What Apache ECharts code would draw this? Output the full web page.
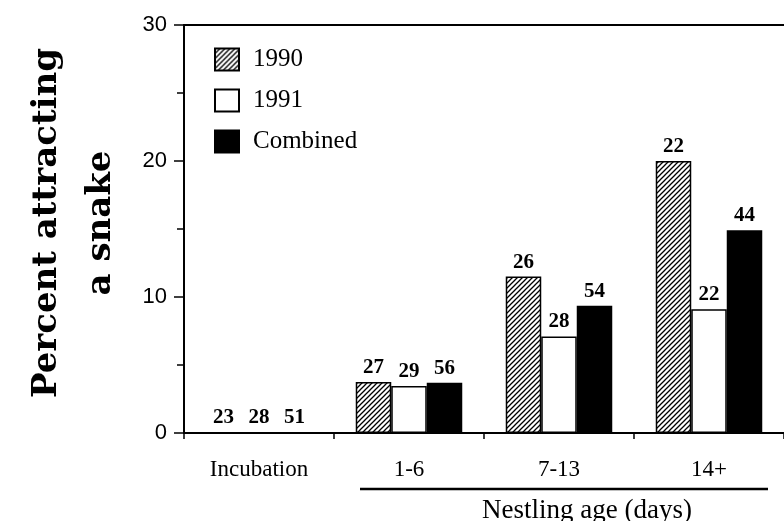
<!DOCTYPE html>
<html>
<head>
<meta charset="utf-8">
<script src="https://cdn.jsdelivr.net/npm/echarts@6/dist/echarts.min.js"></script>
<style>
html,body{margin:0;padding:0;background:#fff;}
#chart{width:784px;height:521px;}
</style>
</head>
<body>
<div id="chart"></div>
<script>
// ---- data ----
var categories = ['Incubation', '1-6', '7-13', '14+'];
var seriesNames = ['1990', '1991', 'Combined'];
var values1990 = [0, 3.75, 11.5, 20.0];
var values1991 = [0, 3.45, 7.1, 9.1];
var valuesCombined = [0, 3.7, 9.35, 14.9];
var n1990 = [23, 27, 26, 22];
var n1991 = [28, 29, 28, 22];
var nCombined = [51, 56, 54, 44];
var yTicks = [0, 10, 20, 30];
var yTitle = 'Percent attracting\na snake';
var groupTitle = 'Nestling age (days)';

// hatch pattern
function makeHatch() {
  var s = 5;
  var c = document.createElement('canvas');
  c.width = s; c.height = s;
  var g = c.getContext('2d');
  g.fillStyle = '#fff';
  g.fillRect(0, 0, s, s);
  g.strokeStyle = '#000';
  g.lineWidth = 1.3;
  g.beginPath();
  g.moveTo(-1, s + 1); g.lineTo(s + 1, -1);
  g.moveTo(-1, 1); g.lineTo(1, -1);
  g.moveTo(s - 1, s + 1); g.lineTo(s + 1, s - 1);
  g.stroke();
  return c;
}
var hatch = { image: makeHatch(), repeat: 'repeat' };

var serifFont = '"Liberation Serif", "Times New Roman", serif';
var labelStyle = {
  show: true, position: 'top', distance: 4, color: '#000',
  fontFamily: serifFont, fontWeight: 'bold', fontSize: 21
};

function barSeries(name, data, counts, color) {
  return {
    name: name, type: 'bar', data: data,
    barGap: '0%', barCategoryGap: '29%',
    itemStyle: { color: color, borderColor: '#000', borderWidth: 1.5 },
    label: Object.assign({}, labelStyle, {
      formatter: function (p) { return String(counts[p.dataIndex]); }
    }),
    emphasis: { disabled: true },
    animation: false
  };
}

var chart = echarts.init(document.getElementById('chart'), null, { renderer: 'canvas' });
var option = {
  backgroundColor: '#fff',
  animation: false,
  grid: { left: 184, top: 25, width: 604, height: 408, containLabel: false },
  legend: {
    orient: 'vertical', left: 209, top: 42,
    itemWidth: 24, itemHeight: 22, itemGap: 16,
    icon: 'rect',
    selectedMode: false,
    textStyle: { fontFamily: serifFont, fontSize: 25, color: '#000', lineHeight: 22, padding: [0, 0, 0, 9] },
    data: seriesNames
  },
  xAxis: [{
    type: 'category', data: categories, position: 'bottom',
    axisLine: { show: true, lineStyle: { color: '#000', width: 2 } },
    axisTick: { show: true, length: 6, lineStyle: { color: '#000', width: 1.5 } },
    axisLabel: { color: '#000', fontFamily: serifFont, fontSize: 23, margin: 25 },
    splitLine: { show: false }
  }, {
    type: 'category', data: categories, position: 'top',
    axisLine: { show: true, lineStyle: { color: '#000', width: 2 } },
    axisTick: { show: false }, axisLabel: { show: false }, splitLine: { show: false }
  }],
  yAxis: {
    type: 'value', min: yTicks[0], max: yTicks[yTicks.length - 1], interval: 10,
    name: yTitle, nameLocation: 'middle', nameGap: 56, nameRotate: 90,
    nameTextStyle: { fontFamily: '"DejaVu Serif", serif', fontWeight: 'bold', fontSize: 34, color: '#000', lineHeight: 54, align: 'center', padding: [0, 0, 0, 12] },
    axisLine: { show: true, lineStyle: { color: '#000', width: 2 } },
    axisTick: { show: true, length: 10, lineStyle: { color: '#000', width: 1.5 } },
    minorTick: { show: true, splitNumber: 2, length: 7, lineStyle: { color: '#000', width: 1.5 } },
    axisLabel: { color: '#000', fontFamily: '"Liberation Sans", Arial, sans-serif', fontSize: 22, margin: 17 },
    splitLine: { show: false }
  },
  series: [
    barSeries(seriesNames[0], values1990, n1990, hatch),
    barSeries(seriesNames[1], values1991, n1991, '#fff'),
    barSeries(seriesNames[2], valuesCombined, nCombined, '#000')
  ],
  graphic: [
    { type: 'line', shape: { x1: 360, y1: 489, x2: 768, y2: 489 }, style: { stroke: '#000', lineWidth: 2.5 } },
    { type: 'text', left: 482, top: 497, style: { text: groupTitle, fontFamily: serifFont, fontSize: 27, fill: '#000' } }
  ]
};
chart.setOption(option);
</script>
</body>
</html>
